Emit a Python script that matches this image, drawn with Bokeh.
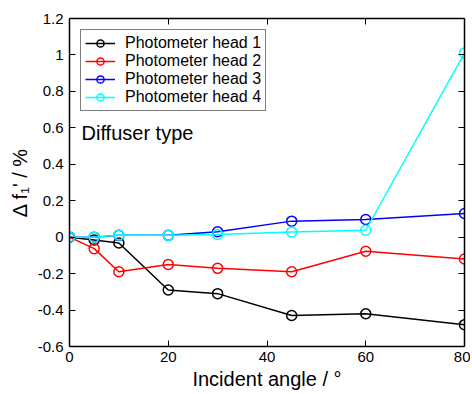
from bokeh.plotting import figure
from bokeh.models import LinearAxis, FixedTicker, Label, Legend
from bokeh.embed import file_html
from bokeh.resources import INLINE

angles = [0, 5, 10, 20, 30, 45, 60, 80]
head1 = [0, -0.015, -0.032, -0.29, -0.31, -0.43, -0.42, -0.48]
head2 = [0, -0.063, -0.19, -0.15, -0.171, -0.19, -0.077, -0.12]
head3 = [0, 0.0, 0.01, 0.01, 0.03, 0.088, 0.097, 0.13]
head4 = [0, 0.0, 0.012, 0.01, 0.015, 0.029, 0.038, 1.01]
series_names = ["Photometer head 1", "Photometer head 2", "Photometer head 3", "Photometer head 4"]
series_colors = ["#000000", "#ff0000", "#0000ff", "#00ffff"]

x_ticks = [0, 20, 40, 60, 80]
y_ticks = [-0.6, -0.4, -0.2, 0, 0.2, 0.4, 0.6, 0.8, 1.0, 1.2]
y_tick_labels = ["-0.6", "-0.4", "-0.2", "0", "0.2", "0.4", "0.6", "0.8", "1", "1.2"]

FONT = "Liberation Sans"

p = figure(width=470, height=392, x_range=(0, 80), y_range=(-0.6, 1.2),
           output_backend="svg", toolbar_location=None,
           min_border_left=69, min_border_right=6, min_border_top=18, min_border_bottom=41)
p.xgrid.visible = False
p.ygrid.visible = False
p.outline_line_color = None
p.background_fill_color = "white"


def style_axis(ax, show_labels):
    ax.axis_line_color = "black"
    ax.axis_line_width = 1.5
    ax.major_tick_in = 6
    ax.major_tick_out = 0
    ax.major_tick_line_color = "black"
    ax.major_tick_line_width = 1
    ax.minor_tick_line_color = None
    ax.major_label_text_font = FONT
    if show_labels:
        ax.major_label_text_font_size = "15px"
        ax.major_label_text_color = "black"
    else:
        ax.major_label_text_font_size = "1px"
        ax.major_label_text_color = None
    ax.axis_label_text_font = FONT
    ax.axis_label_text_font_size = "20px"
    ax.axis_label_text_font_style = "normal"
    ax.axis_label_text_color = "black"


p.xaxis.ticker = FixedTicker(ticks=x_ticks)
p.yaxis.ticker = FixedTicker(ticks=y_ticks)
p.yaxis.major_label_overrides = {t: s for t, s in zip(y_ticks, y_tick_labels)}
p.xaxis.axis_label = "Incident angle / °"
p.yaxis.axis_label = "Δ f₁' / %"
style_axis(p.xaxis[0], True)
style_axis(p.yaxis[0], True)
p.xaxis.major_label_standoff = 5
p.yaxis.major_label_standoff = 6
p.xaxis.axis_label_standoff = 3
p.yaxis.axis_label_standoff = 4

top_ax = LinearAxis(ticker=FixedTicker(ticks=x_ticks), major_label_standoff=0)
style_axis(top_ax, False)
p.add_layout(top_ax, "above")
right_ax = LinearAxis(ticker=FixedTicker(ticks=y_ticks), major_label_standoff=0)
style_axis(right_ax, False)
p.add_layout(right_ax, "right")

items = []
for vals, name, col in zip([head1, head2, head3, head4], series_names, series_colors):
    r1 = p.line(angles, vals, line_color=col, line_width=1.5)
    r2 = p.scatter(angles, vals, marker="circle", size=10, line_color=col,
                   line_width=1.5, fill_color=None)
    items.append((name, [r1, r2]))

legend = Legend(items=items, location="top_left")
legend.label_text_font = FONT
legend.label_text_font_size = "16px"
legend.label_text_color = "black"
legend.border_line_color = "black"
legend.border_line_width = 1.5
legend.background_fill_color = "white"
legend.background_fill_alpha = 1.0
legend.margin = 11
legend.padding = 4
legend.spacing = 0
legend.label_height = 18
legend.glyph_height = 18
legend.glyph_width = 30
legend.label_standoff = 10
p.add_layout(legend, "center")

p.add_layout(Label(x=12, y=214, x_units="screen", y_units="screen", text="Diffuser type",
                   text_font=FONT, text_font_size="20px", text_color="black",
                   text_baseline="alphabetic"))

open("out.html", "w").write(file_html(p, INLINE))
